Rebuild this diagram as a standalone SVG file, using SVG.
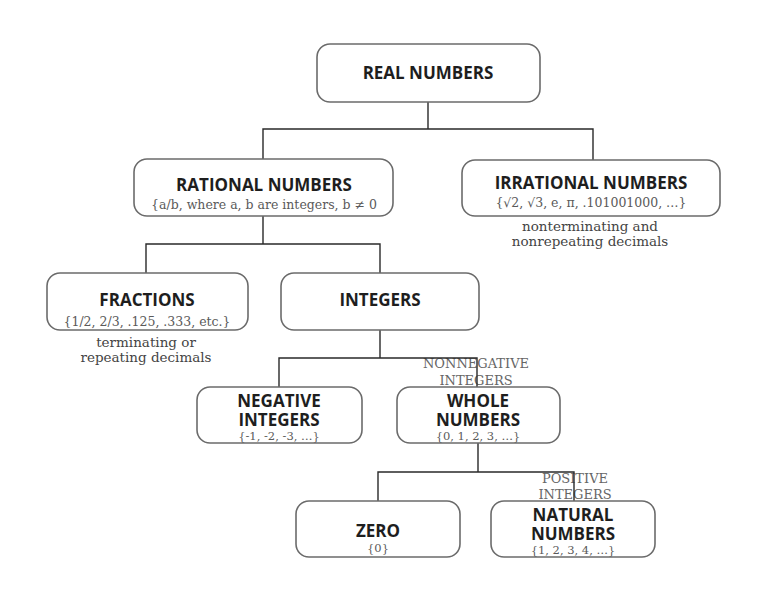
<svg xmlns="http://www.w3.org/2000/svg" width="776" height="600" viewBox="0 0 776 600">
<style>
.box{fill:#fff;stroke:#6b6b6b;stroke-width:1.6}
.t{font-family:"Open Sans","DejaVu Sans",sans-serif;font-weight:700;font-size:17px;fill:#1e1e1e;text-anchor:middle}
.s{font-family:"DejaVu Serif","Liberation Serif",serif;font-size:12.5px;fill:#5a5a5a;text-anchor:middle}
.s2{font-family:"DejaVu Serif","Liberation Serif",serif;font-size:11.5px;fill:#5a5a5a;text-anchor:middle}
.n{font-family:"DejaVu Serif","Liberation Serif",serif;font-size:13.5px;fill:#444;text-anchor:middle}
.l{font-family:"DejaVu Serif","Liberation Serif",serif;font-size:13px;fill:#666;text-anchor:middle}
.c{fill:none;stroke:#2a2a2a;stroke-width:1.4}
</style>
<rect width="776" height="600" fill="#fff"/>
<g id="labels">
<text class="l" x="476" y="368">NONNEGATIVE</text>
<text class="l" x="476" y="385">INTEGERS</text>
<text class="l" x="575" y="483">POSITIVE</text>
<text class="l" x="575" y="499">INTEGERS</text>
</g>
<g id="connectors">
<path class="c" d="M428 102V129M263 159V129H593V160"/>
<path class="c" d="M263 216V244M146 273V244H380V273"/>
<path class="c" d="M380 330V358M279 387V358H477V387"/>
<path class="c" d="M478 443V472M378 501V472H574V501"/>
</g>
<g id="real"><rect class="box" x="317" y="44" width="223" height="58" rx="13"/><text class="t" x="428" y="79">REAL NUMBERS</text></g>
<g id="rational"><rect class="box" x="134" y="159" width="259" height="57" rx="13"/><text class="t" x="264" y="191">RATIONAL NUMBERS</text><text class="s" x="264" y="209">{a/b, where a, b are integers, b ≠ 0</text></g>
<g id="irrational"><rect class="box" x="462" y="160" width="258" height="56" rx="13"/><text class="t" x="591" y="189">IRRATIONAL NUMBERS</text><text class="s" x="591" y="207">{√2, √3, e, π, .101001000, …}</text><text class="n" x="590" y="231">nonterminating and</text><text class="n" x="590" y="246">nonrepeating decimals</text></g>
<g id="fractions"><rect class="box" x="47" y="273" width="201" height="57" rx="13"/><text class="t" x="147" y="306">FRACTIONS</text><text class="s" x="147" y="326">{1/2, 2/3, .125, .333, etc.}</text><text class="n" x="146" y="347">terminating or</text><text class="n" x="146" y="362">repeating decimals</text></g>
<g id="integers"><rect class="box" x="281" y="273" width="198" height="57" rx="13"/><text class="t" x="380" y="306">INTEGERS</text></g>
<g id="negative"><rect class="box" x="197" y="387" width="165" height="56" rx="13"/><text class="t" x="279" y="407">NEGATIVE</text><text class="t" x="279" y="426">INTEGERS</text><text class="s2" x="279" y="440">{-1, -2, -3, …}</text></g>
<g id="whole"><rect class="box" x="397" y="387" width="163" height="56" rx="13"/><text class="t" x="478" y="407">WHOLE</text><text class="t" x="478" y="426">NUMBERS</text><text class="s2" x="478" y="440">{0, 1, 2, 3, …}</text></g>
<g id="zero"><rect class="box" x="296" y="501" width="164" height="56" rx="13"/><text class="t" x="378" y="537">ZERO</text><text class="s2" x="378" y="552">{0}</text></g>
<g id="natural"><rect class="box" x="491" y="501" width="164" height="56" rx="13"/><text class="t" x="573" y="521">NATURAL</text><text class="t" x="573" y="540">NUMBERS</text><text class="s2" x="573" y="554">{1, 2, 3, 4, …}</text></g>
</svg>
